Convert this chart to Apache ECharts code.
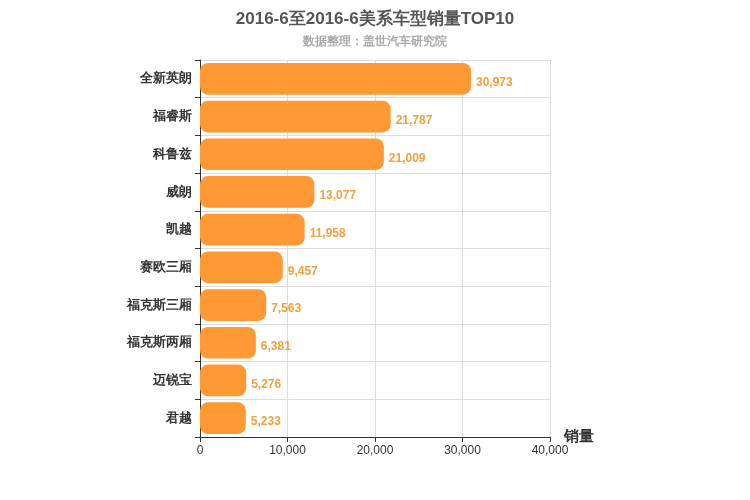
<!DOCTYPE html>
<html><head><meta charset="utf-8">
<script src="https://cdn.jsdelivr.net/npm/echarts@6/dist/echarts.min.js"></script>
<style>body{margin:0}#chart{width:750px;height:500px}</style>
</head><body><div id="chart"></div>
<script>
var models = ['全新英朗','福睿斯','科鲁兹','威朗','凯越','赛欧三厢','福克斯三厢','福克斯两厢','迈锐宝','君越'];
var sales = [30973,21787,21009,13077,11958,9457,7563,6381,5276,5233];

var myChart = echarts.init(document.getElementById('chart'));
var option = {
    title: {
        left: 'center', top: 6,
        text: '2016-6至2016-6美系车型销量TOP10',
        textStyle: {fontSize: 17, fontWeight: 'bold', color: '#555'},
        subtext: '数据整理：盖世汽车研究院',
        subtextStyle: {fontSize: 12, fontWeight: 'bold', color: '#aaa'},
        itemGap: 8
    },
    grid: {left: 200, right: 200, top: 60, bottom: 63},
    xAxis: {
        type: 'value', min: 0, max: 40000, interval: 10000,
        name: '销量', nameGap: 14,
        nameTextStyle: {fontSize: 15, fontWeight: 'bold', color: '#333'},
        axisLine: {show: true, lineStyle: {color: '#333'}},
        axisTick: {show: true},
        axisLabel: {color: '#333', fontSize: 12},
        splitLine: {lineStyle: {color: '#ddd'}}
    },
    yAxis: {
        type: 'category', data: models, inverse: true,
        axisLine: {lineStyle: {color: '#333'}},
        axisTick: {show: true},
        axisLabel: {color: '#333', fontSize: 13, fontWeight: 'bold'},
        splitLine: {show: true, lineStyle: {color: '#ddd'}}
    },
    series: [{
        type: 'bar', data: sales, barWidth: '84%',
        itemStyle: {color: '#ff9933', borderRadius: 8},
        label: {show: true, position: 'right', offset: [0, 4], color: '#f0a040', fontSize: 12, fontWeight: 'bold',
            formatter: function(p){ return p.value.toLocaleString('en-US'); }}
    }]
};
option && myChart.setOption(option);
</script></body></html>
